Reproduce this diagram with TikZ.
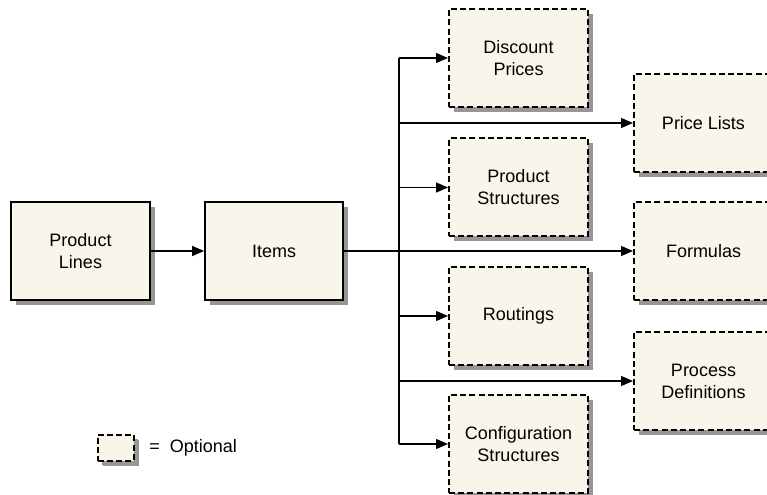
\documentclass[tikz,border=0pt]{standalone}
\usepackage{fontspec}
\setmainfont{Liberation Sans}
\usetikzlibrary{arrows.meta,shadows}
\definecolor{boxfill}{RGB}{249,245,235}
\definecolor{shadowgray}{RGB}{150,150,150}
\tikzset{
  base/.style={fill=boxfill, inner sep=0pt, align=center,
    font=\fontsize{13.5pt}{16.5pt}\selectfont,
    minimum width=104.25pt, minimum height=73.5pt,
    drop shadow={shadow xshift=3.75pt, shadow yshift=-3.75pt, fill=shadowgray, opacity=1}},
  solidbox/.style={base, draw=black, line width=1.3pt},
  optbox/.style={base, draw=black, line width=1.5pt, dash pattern=on 4.5pt off 2.4pt},
  conn/.style={draw=black, line width=0.9pt},
  arr/.style={conn, -{Triangle[length=9pt,width=7.5pt]}},
  lbl/.style={font=\fontsize{13.5pt}{16.5pt}\selectfont, inner sep=0pt}
}
\begin{document}
\begin{tikzpicture}[x=0.75pt,y=-0.75pt]
\useasboundingbox (0,0) rectangle (767,495);
\clip (0,0) rectangle (767,495);
% left column
\node[solidbox] (PL) at (80.5,251) {Product\\Lines};
\node[solidbox, minimum width=103.5pt] (IT) at (274,251) {Items};
% middle column
\node[optbox] (DP) at (518.5,58) {Discount\\Prices};
\node[optbox] (PS) at (518.5,187.5) {Product\\Structures};
\node[optbox] (RO) at (518.5,316) {Routings};
\node[optbox] (CS) at (518.5,444) {Configuration\\Structures};
% right column
\node[optbox] (PR) at (703.5,123) {Price Lists};
\node[optbox] (FO) at (703.5,251) {Formulas};
\node[optbox] (PD) at (703.5,381) {Process\\Definitions};
% legend
\node[optbox, minimum width=27pt, minimum height=19.5pt, drop shadow={shadow xshift=3pt, shadow yshift=-3pt, fill=shadowgray, opacity=1}] (LG) at (115.5,447.5) {};
\node[lbl, anchor=west] (LT) at (149,448) {=\ \ Optional};
% connectors
\coordinate (T) at (399,251);
\draw[arr] (PL.east) -- (IT.east -| IT.west);
\draw[arr] (IT.east) -- (FO.west);
\draw[conn] (T |- DP.west) -- (T |- CS.west);
\draw[arr] (T |- DP.west) -- (DP.west);
\draw[arr] (T |- PR.west) -- (PR.west);
\draw[arr] (T |- PS.west) -- (PS.west);
\draw[arr] (T |- RO.west) -- (RO.west);
\draw[arr] (T |- PD.west) -- (PD.west);
\draw[arr] (T |- CS.west) -- (CS.west);
\end{tikzpicture}
\end{document}
